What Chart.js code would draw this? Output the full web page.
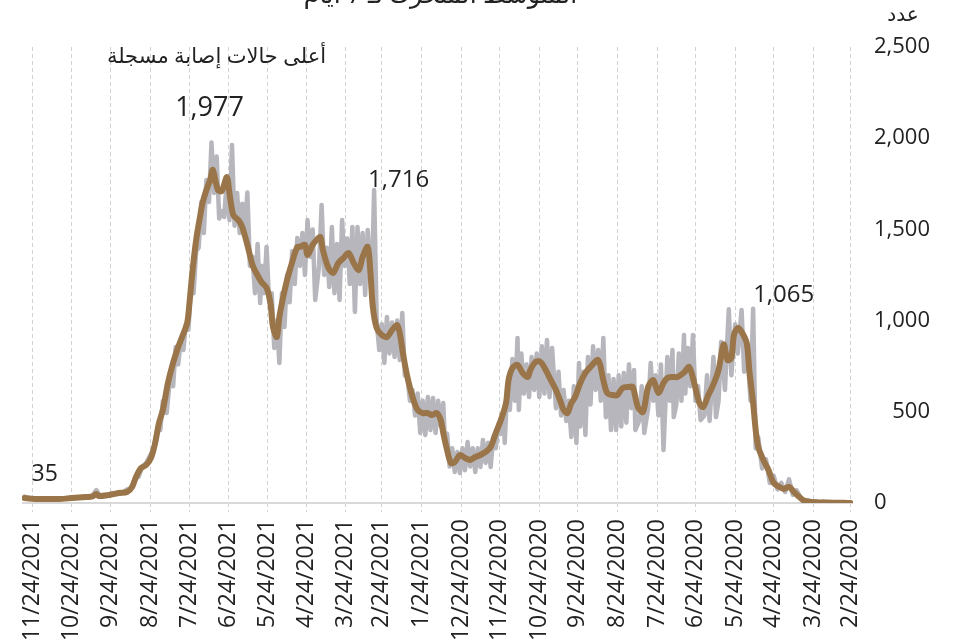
<!DOCTYPE html>
<html>
<head>
<meta charset="utf-8">
<script src="https://cdn.jsdelivr.net/npm/chart.js@4.4.1/dist/chart.umd.min.js"></script>
<style>
html,body{margin:0;padding:0;background:#ffffff;}
#wrap{position:relative;width:954px;height:642px;overflow:hidden;}
canvas{display:block;}
</style>
</head>
<body>
<div id="wrap"><canvas id="c" width="954" height="642"></canvas></div>
<script>
// ---- text ----
const titleText = 'المتوسط المتحرك لـ 7 أيام';
const yAxisTitle = 'عدد';
const peakNote = 'أعلى حالات إصابة مسجلة';

// ---- x axis: day offsets counted from this date ----
const startDate = [2020, 2, 24];
const tickLabels = ['2/24/2020','3/24/2020','4/24/2020','5/24/2020','6/24/2020','7/24/2020','8/24/2020',
  '9/24/2020','10/24/2020','11/24/2020','12/24/2020','1/24/2021','2/24/2021','3/24/2021','4/24/2021',
  '5/24/2021','6/24/2021','7/24/2021','8/24/2021','9/24/2021','10/24/2021','11/24/2021'];

// ---- daily registered cases (day offset, cases) ----
const dailyDays = [
  0,3,6,9,12,15,18,21,24,27,
  30,33,36,39,42,45,48,51,54,57,
  60,63,66,69,72,74,76,78,81,83,
  85,88,90,93,95,98,101,103,105,107,
  110,112,114,117,119,121,123,125,127,129,
  130,132,134,136,138,139,141,143,146,148,
  150,152,154,156,158,161,163,165,168,169,
  171,173,175,177,179,181,183,185,187,189,
  191,193,195,197,199,201,203,205,207,209,
  211,212,214,216,218,220,222,224,226,228,
  230,233,235,237,239,241,243,245,247,249,
  251,253,255,257,259,260,262,264,266,268,
  270,271,273,275,277,279,281,283,285,287,
  289,291,293,295,297,299,301,303,305,307,
  309,311,313,315,317,318,320,322,324,326,
  328,330,332,334,336,338,340,342,344,346,
  348,350,352,354,356,358,360,362,364,366,
  368,370,372,374,377,379,381,383,385,387,
  389,391,393,395,397,399,401,403,405,407,
  409,411,413,415,418,420,422,424,426,428,
  430,432,434,436,438,440,442,444,446,448,
  450,452,454,456,458,460,461,463,465,467,
  469,471,473,475,477,479,481,483,485,487,
  489,491,493,495,497,499,501,503,505,507,
  509,511,513,515,517,519,521,523,525,527,
  529,531,534,537,539,541,544,547,550,553,
  556,559,562,565,568,571,574,577,580,583,
  586,589,592,595,598,601,604,607,610,614,
  618,622,626,630,634,638,642,645];
const dailyCases = [
  0,2,0,5,1,6,2,8,3,9,
  5,14,8,30,70,45,130,60,110,75,
  150,110,240,190,360,300,1065,560,880,720,
  1058,820,980,700,1062,620,883,560,471,800,
  450,700,480,455,640,560,921,640,850,600,
  921,560,820,540,471,839,560,800,290,760,
  480,700,560,768,520,384,640,450,400,729,
  520,760,440,713,420,700,400,680,400,700,
  470,905,560,839,620,860,540,800,373,720,
  420,768,329,640,362,560,450,620,480,720,
  520,850,580,894,600,860,581,820,620,800,
  581,760,600,820,510,905,560,790,510,640,
  329,493,380,430,300,362,197,330,220,345,
  197,300,170,300,200,334,180,300,164,280,
  170,300,200,380,384,548,420,560,384,576,
  400,581,373,560,384,600,480,620,560,690,
  700,1042,784,1000,800,990,820,1020,768,980,
  839,1000,1716,1130,1497,1140,1480,1200,1513,1047,
  1513,1200,1450,1300,1551,1113,1420,1150,1513,1184,
  1400,1250,1634,1300,1113,1500,1350,1551,1250,1480,
  1300,1453,1200,1380,1100,1250,965,1150,768,1000,
  850,1150,1100,1404,1150,1300,1096,1420,1150,1350,
  1300,1702,1497,1640,1480,1700,1520,1963,1551,1780,
  1568,1600,1560,1900,1700,1977,1650,1771,1480,1650,
  1400,1380,1150,1200,950,980,839,890,760,855,
  640,720,493,560,400,420,300,260,220,200,
  143,130,80,75,58,60,48,55,42,44,
  38,71,40,34,36,30,32,28,30,24,
  25,22,26,22,25,22,28,35];

// ---- 7-day moving average (day offset, value) ----
const avgDays = [
  0,5,15,27,33,37,41,44,48,52,
  56,60,64,68,72,74,76,79,81,85,
  88,91,93,96,99,103,107,111,115,118,
  122,126,130,135,139,143,146,150,154,158,
  162,166,170,173,178,182,186,190,193,197,
  203,207,211,215,218,221,224,226,230,234,
  238,242,246,250,252,256,260,264,267,269,
  273,277,281,285,289,293,297,301,305,309,
  312,315,318,320,323,327,330,334,338,342,
  346,349,352,354,358,362,366,370,373,375,
  377,381,384,388,392,396,400,404,408,412,
  414,417,420,424,426,430,432,436,440,443,
  446,448,451,453,456,460,464,467,471,475,
  478,482,485,487,491,494,498,500,503,506,
  508,511,514,516,518,522,525,529,533,537,
  540,543,546,550,554,558,561,565,571,579,
  587,589,592,597,608,618,634,645];
const avgCases = [
  0,1,2,4,8,16,40,60,88,77,
  90,110,181,236,307,400,548,729,877,938,
  959,921,795,784,870,729,650,592,526,548,
  658,746,715,691,691,685,658,603,674,636,
  499,526,636,636,630,592,592,603,674,784,
  746,713,658,581,548,493,510,548,620,674,
  729,773,773,729,691,713,757,740,674,548,
  455,384,307,280,263,252,236,247,263,225,
  219,290,384,455,493,482,493,493,510,581,
  691,800,932,976,948,910,921,959,1075,1277,
  1404,1349,1277,1316,1371,1343,1316,1261,1294,1387,
  1458,1442,1415,1360,1415,1404,1404,1321,1223,1130,
  1020,910,965,1096,1179,1212,1261,1305,1415,1513,
  1551,1579,1700,1787,1710,1716,1826,1771,1716,1645,
  1568,1442,1261,1113,987,910,855,768,658,510,
  439,329,252,208,192,143,88,60,55,44,
  38,50,36,33,27,22,22,27];

// ---- highlighted daily values ----
const peakValues = [1977, 1716, 1065, 35];
const peakTexts = ['1,977', '1,716', '1,065', '35'];
const peakStyles = [
  {size: 27, align: 'center', dx: -2, dy: -34},
  {size: 24, align: 'left', dx: -6, dy: -10},
  {size: 24, align: 'left', dx: 0, dy: -14},
  {size: 23, align: 'left', dx: 7, dy: -22}
];

const FONT = '"Open Sans", "DejaVu Sans", sans-serif';
const TXT = '#222222';

function dayOffset(label) {
  const [m, d, y] = label.split('/').map(Number);
  return Math.round((Date.UTC(y, m - 1, d) - Date.UTC(startDate[0], startDate[1] - 1, startDate[2])) / 86400000);
}
const tickDays = tickLabels.map(dayOffset);

const textPlugin = {
  id: 'texts',
  afterDraw(chart) {
    const {ctx, chartArea, scales} = chart;
    const xs = scales.x, ys = scales.y;
    ctx.save();
    ctx.fillStyle = TXT;
    // title (partly above the canvas)
    ctx.direction = 'rtl';
    ctx.font = '25px ' + FONT;
    ctx.textAlign = 'center';
    ctx.textBaseline = 'alphabetic';
    ctx.fillText(titleText, (chartArea.left + chartArea.right) / 2 + 3, 3);
    // y axis unit
    ctx.font = '20px ' + FONT;
    ctx.textBaseline = 'middle';
    ctx.fillText(yAxisTitle, ys.left + 50, 15);
    // peak labels
    ctx.direction = 'ltr';
    let top = null;
    peakValues.forEach((v, i) => {
      const idx = dailyCases.indexOf(v);
      const px = xs.getPixelForValue(dailyDays[idx]);
      const py = ys.getPixelForValue(v);
      const s = peakStyles[i];
      ctx.font = s.size + 'px ' + FONT;
      ctx.textAlign = s.align;
      ctx.textBaseline = 'middle';
      ctx.fillText(peakTexts[i], px + s.dx, py + s.dy);
      if (i === 0) top = {x: px + s.dx, y: py + s.dy};
    });
    // note above the highest value
    ctx.direction = 'rtl';
    ctx.font = '21px ' + FONT;
    ctx.textAlign = 'center';
    ctx.textBaseline = 'middle';
    ctx.fillText(peakNote, top.x + 7, top.y - 51);
    ctx.restore();
  }
};

new Chart(document.getElementById('c'), {
  type: 'line',
  data: {
    datasets: [
      {
        label: '7-day average',
        data: avgDays.map((d, i) => ({x: d, y: avgCases[i]})),
        borderColor: '#9A7549',
        borderWidth: 6,
        pointRadius: 0,
        tension: 0.3,
        borderJoinStyle: 'round',
        borderCapStyle: 'round',
        order: 0
      },
      {
        label: 'daily',
        data: dailyDays.map((d, i) => ({x: d, y: dailyCases[i]})),
        borderColor: '#B6B6BC',
        borderWidth: 4.5,
        pointRadius: 0,
        tension: 0,
        borderJoinStyle: 'round',
        borderCapStyle: 'round',
        order: 1
      }
    ]
  },
  options: {
    responsive: false,
    animation: false,
    devicePixelRatio: 1,
    layout: {padding: {left: 22, top: 47, right: 24, bottom: 0}},
    plugins: {legend: {display: false}, tooltip: {enabled: false}},
    scales: {
      x: {
        type: 'linear',
        reverse: true,
        min: -2,
        max: 647,
        afterBuildTicks: (scale) => { scale.ticks = tickDays.map(v => ({value: v})); },
        afterFit: (scale) => { scale.height = 139; },
        grid: {
          display: true,
          color: '#D2D2D2',
          lineWidth: 1,
          drawTicks: true,
          tickLength: 9,
          tickColor: '#D2D2D2',
          tickBorderDash: [4, 3]
        },
        border: {display: false, dash: [4, 3]},
        ticks: {
          autoSkip: false,
          maxRotation: 90,
          minRotation: 90,
          padding: 7,
          color: TXT,
          font: {family: FONT, size: 23},
          callback: (value, index) => tickLabels[index]
        }
      },
      y: {
        type: 'linear',
        position: 'right',
        min: 0,
        max: 2500,
        afterFit: (scale) => { scale.width = 77; },
        grid: {
          drawTicks: false,
          color: (c) => (c.tick && c.tick.value === 0) ? '#D9D9D9' : 'rgba(0,0,0,0)',
          lineWidth: 2
        },
        border: {display: false},
        ticks: {
          stepSize: 500,
          padding: 20,
          crossAlign: 'far',
          color: TXT,
          font: {family: FONT, size: 22},
          callback: (v) => v === 0 ? '0\u2007\u2007\u2007\u2008' : Number(v).toLocaleString('en-US')
        }
      }
    }
  },
  plugins: [textPlugin]
});
</script>
</body>
</html>
